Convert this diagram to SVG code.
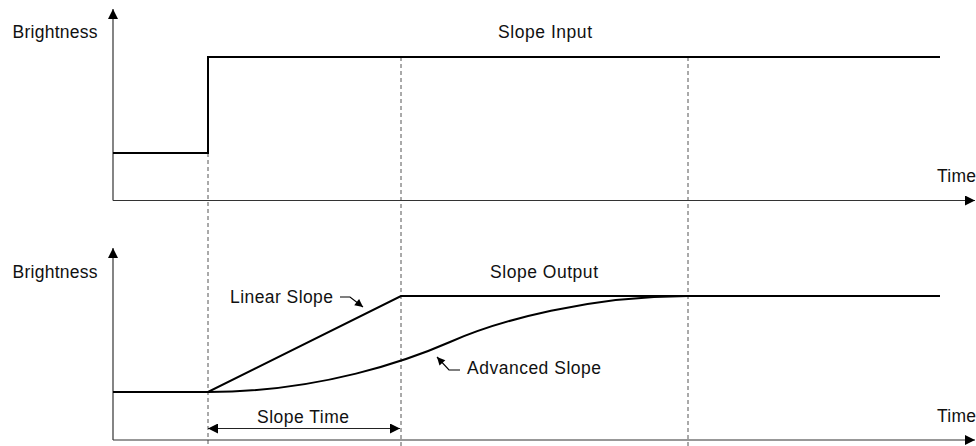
<svg xmlns="http://www.w3.org/2000/svg" width="976" height="446" viewBox="0 0 976 446">
<defs>
<style>
.axis{stroke:#333;stroke-width:1.2;fill:none}
.sig{stroke:#000;stroke-width:2;fill:none;stroke-linejoin:miter}
.dash{stroke:#555;stroke-width:1;stroke-dasharray:4,3;fill:none}
.ptr{stroke:#000;stroke-width:1.2;fill:none}
.dim{stroke:#222;stroke-width:1.2;fill:none}
text{font-family:"Liberation Sans",Arial,sans-serif;font-size:17.5px;fill:#111}
</style>
<marker id="ah" viewBox="0 0 10 10" refX="10" refY="5" markerWidth="11" markerHeight="10" markerUnits="userSpaceOnUse" orient="auto-start-reverse">
<path d="M0,0 L10,5 L0,10 Z" fill="#000"/>
</marker>
<marker id="ap" viewBox="0 0 10 10" refX="10" refY="5" markerWidth="9" markerHeight="8" markerUnits="userSpaceOnUse" orient="auto">
<path d="M0,0 L10,5 L0,10 Z" fill="#000"/>
</marker>
</defs>
<rect width="976" height="446" fill="#fff"/>

<g id="guides">
<line class="dash" x1="208" y1="153" x2="208" y2="446"/>
<line class="dash" x1="401" y1="57" x2="401" y2="446"/>
<line class="dash" x1="688" y1="57" x2="688" y2="446"/>
</g>

<g id="top-chart">
<line class="axis" x1="113" y1="200.5" x2="113" y2="9" marker-end="url(#ah)"/>
<line class="axis" x1="113" y1="200.5" x2="975" y2="200.5" marker-end="url(#ah)"/>
<text x="12.5" y="38" textLength="85" lengthAdjust="spacing">Brightness</text>
<text x="937" y="182" textLength="39" lengthAdjust="spacing">Time</text>
<text x="498" y="38" textLength="94" lengthAdjust="spacing">Slope Input</text>
<polyline id="slope-input" class="sig" points="113,153 208,153 208,57 940,57"/>
</g>

<g id="bottom-chart">
<line class="axis" x1="113" y1="440" x2="113" y2="248" marker-end="url(#ah)"/>
<line class="axis" x1="113" y1="440" x2="975" y2="440" marker-end="url(#ah)"/>
<text x="12.5" y="278" textLength="85" lengthAdjust="spacing">Brightness</text>
<text x="937" y="422" textLength="39" lengthAdjust="spacing">Time</text>
<text x="490" y="278" textLength="108" lengthAdjust="spacing">Slope Output</text>
<polyline id="linear-slope" class="sig" points="113,392 208,392 401,296 940,296"/>
<path id="advanced-slope" class="sig" d="M208,392 C320,392 410,359.6 450,342 C500,320 590,296 688,296"/>
</g>

<g id="labels">
<g id="linear-label">
<text x="230" y="303" textLength="103" lengthAdjust="spacing">Linear Slope</text>
</g>
<g id="advanced-label">
<text x="467" y="374" textLength="134" lengthAdjust="spacing">Advanced Slope</text>
</g>
<g id="slope-time">
<text x="257" y="423" textLength="92" lengthAdjust="spacing">Slope Time</text>
</g>
</g>

<g id="connectors">
<path class="ptr" d="M340,297 H350 L363,307" marker-end="url(#ap)"/>
<path class="ptr" d="M460,370 H449 L437,357" marker-end="url(#ap)"/>
<line class="dim" x1="208" y1="428.5" x2="400" y2="428.5" marker-start="url(#ah)" marker-end="url(#ah)"/>
</g>
</svg>
